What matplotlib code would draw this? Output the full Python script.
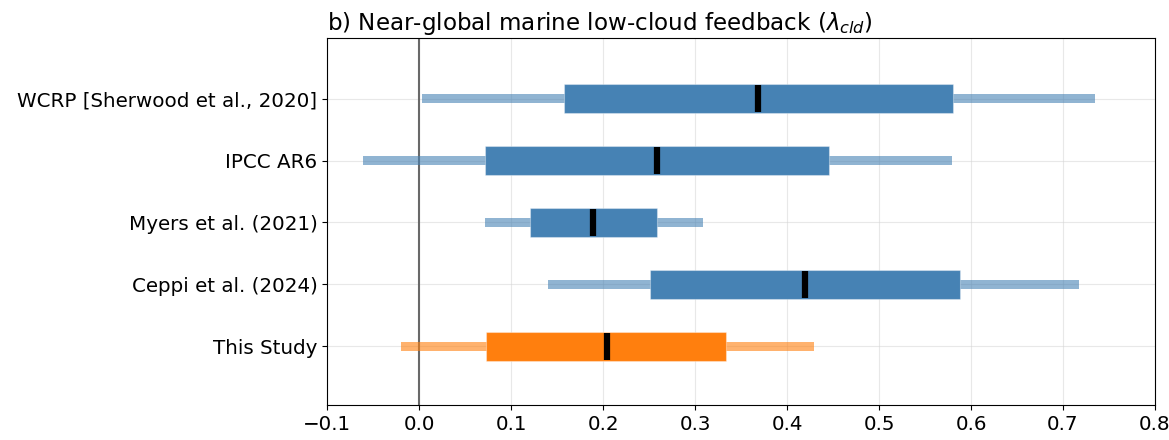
import numpy as np
import matplotlib
matplotlib.use('Agg')
import matplotlib.pyplot as plt

# estimates of marine low-cloud feedback (W m-2 K-1)
labels = ['WCRP [Sherwood et al., 2020]', 'IPCC AR6', 'Myers et al. (2021)',
          'Ceppi et al. (2024)', 'This Study']
lo_95 = [0.003, -0.061, 0.071, 0.140, -0.020]
hi_95 = [0.735, 0.579, 0.308, 0.717, 0.429]
lo_66 = [0.157, 0.072, 0.120, 0.251, 0.073]
hi_66 = [0.580, 0.445, 0.259, 0.588, 0.334]
medians = [0.368, 0.259, 0.189, 0.419, 0.204]
colors = ['steelblue', 'steelblue', 'steelblue', 'steelblue', '#ff7f0e']

fig = plt.figure(figsize=(11.69, 4.4), dpi=100)
ax = fig.add_axes([0.28, 0.0795, 0.708, 0.834])

n = len(labels)
ypos = np.arange(n)[::-1]

for i in range(n):
    y = ypos[i]
    c = colors[i]
    # very likely range
    ax.barh(y, hi_95[i] - lo_95[i], left=lo_95[i], height=0.15,
            color=c, alpha=0.6, zorder=2)
    # likely range
    ax.barh(y, hi_66[i] - lo_66[i], left=lo_66[i], height=0.47,
            color=c, edgecolor=(1, 1, 1, 0.35), linewidth=0.8, zorder=3)
    # best estimate
    ax.plot([medians[i], medians[i]], [y - 0.22, y + 0.22], color='k',
            lw=4.5, solid_capstyle='butt', zorder=4)

ax.axvline(0, color='dimgray', lw=1.5, zorder=1)

ax.set_yticks(ypos)
ax.set_yticklabels(labels, fontsize=14.3)
ax.set_xlim(-0.1, 0.8)
ax.set_ylim(-0.95, 4.98)
ax.set_xticks(np.arange(-0.1, 0.81, 0.1))
ax.tick_params(axis='x', labelsize=14.3)
ax.grid(True, color='lightgray', alpha=0.5, zorder=0)
ax.set_axisbelow(True)
ax.set_title(r'b) Near-global marine low-cloud feedback ($\lambda_{cld}$)',
             loc='left', fontsize=16.6)

fig.savefig('out.png', dpi=100)
